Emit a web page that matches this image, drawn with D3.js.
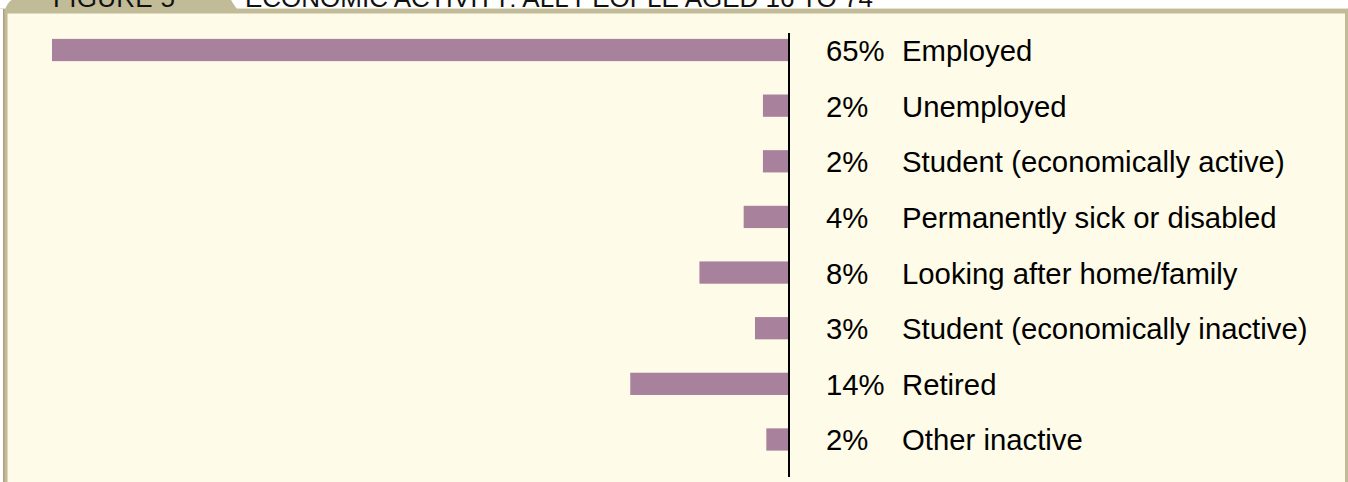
<!DOCTYPE html>
<html>
<head>
<meta charset="utf-8">
<script src="https://cdn.jsdelivr.net/npm/d3@7"></script>
<style>
  body { margin: 0; background: #fff; }
  svg { display: block; }
</style>
</head>
<body>
<svg id="chart"></svg>
<script>
// Data
const categories = [
  "Employed",
  "Unemployed",
  "Student (economically active)",
  "Permanently sick or disabled",
  "Looking after home/family",
  "Student (economically inactive)",
  "Retired",
  "Other inactive"
];
const values = [65, 2.3, 2.3, 4, 7.9, 3, 14, 2];
const valueLabels = ["65%", "2%", "2%", "4%", "8%", "3%", "14%", "2%"];

const tabLabel = "FIGURE 5";
const title = "ECONOMIC ACTIVITY: ALL PEOPLE AGED 16 TO 74";

const width = 1348;
const height = 482;
const fontFamily = "Liberation Sans, Arial, Helvetica, sans-serif";

const cream = "#FEFBE8";
const khaki = "#C1BB98";
const barColor = "#A8819C";

const svg = d3.select("#chart")
  .attr("width", width)
  .attr("height", height)
  .style("font-family", fontFamily);

// panel background
svg.append("rect")
  .attr("x", 3).attr("y", 9)
  .attr("width", width - 3).attr("height", height - 9)
  .attr("fill", cream);

// top border + left/right borders
svg.append("line")
  .attr("x1", 0).attr("x2", width)
  .attr("y1", 8.5).attr("y2", 8.5)
  .attr("stroke", "#e4e2d6").attr("stroke-width", 1);
svg.append("rect")
  .attr("x", 5).attr("y", 9)
  .attr("width", width - 5).attr("height", 4.5)
  .attr("fill", khaki);
svg.append("rect")
  .attr("x", 3).attr("y", 9)
  .attr("width", 4.5).attr("height", height - 9)
  .attr("fill", khaki);
svg.append("rect")
  .attr("x", 3).attr("y", 9)
  .attr("width", 1.5).attr("height", height - 9)
  .attr("fill", "#a9a480");
svg.append("rect")
  .attr("x", width - 3).attr("y", 9)
  .attr("width", 3).attr("height", height - 9)
  .attr("fill", khaki);

// the "FIGURE 5" tab
svg.append("path")
  .attr("d", "M4,13 C6,6 9,1 12,0 L231,0 C233,3 235,7 238,10 L238,13 Z")
  .attr("fill", khaki);

svg.append("text")
  .attr("x", 53).attr("y", 7)
  .style("font-size", "26px")
  .attr("fill", "#111")
  .attr("textLength", 122)
  .text(tabLabel);

svg.append("text")
  .attr("x", 245).attr("y", 7)
  .style("font-size", "26px")
  .attr("fill", "#111")
  .attr("textLength", 628)
  .text(title);

// scales
const axisX = 789;
const x = d3.scaleLinear().domain([0, 65]).range([0, 737]);
const y = d3.scaleBand()
  .domain(categories)
  .range([22.2, 467.3])
  .paddingInner(0.6)
  .paddingOuter(0.3);

const rows = categories.map((c, i) => ({ name: c, value: values[i], label: valueLabels[i] }));

svg.append("g")
  .selectAll("rect")
  .data(rows)
  .join("rect")
  .attr("x", d => axisX - x(d.value))
  .attr("y", d => y(d.name))
  .attr("width", d => x(d.value))
  .attr("height", y.bandwidth())
  .attr("fill", barColor);

// vertical axis line
svg.append("line")
  .attr("x1", axisX).attr("x2", axisX)
  .attr("y1", 33).attr("y2", 477)
  .attr("stroke", "#000").attr("stroke-width", 2);

const labels = svg.append("g")
  .style("font-size", "29.3px")
  .attr("fill", "#000");

labels.selectAll("text.pct")
  .data(rows)
  .join("text")
  .attr("class", "pct")
  .attr("x", 826)
  .attr("y", d => y(d.name) + y.bandwidth() / 2 + 11)
  .text(d => d.label);

labels.selectAll("text.name")
  .data(rows)
  .join("text")
  .attr("class", "name")
  .attr("x", 902)
  .attr("y", d => y(d.name) + y.bandwidth() / 2 + 11)
  .text(d => d.name);
</script>
</body>
</html>
